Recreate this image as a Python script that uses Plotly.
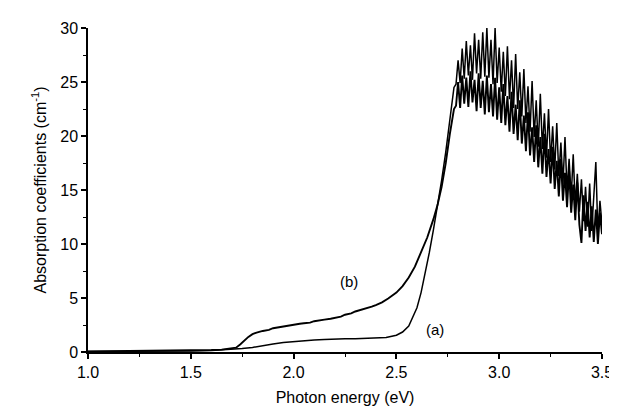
import numpy as np
import plotly.graph_objects as go

# ---- data ----
# smooth parts (photon energy in eV, absorption in cm^-1)
energy_a_smooth = [1.00, 1.10, 1.20, 1.30, 1.40, 1.50, 1.60, 1.65, 1.70, 1.75, 1.80, 1.85, 1.90,
                   1.95, 2.00, 2.05, 2.10, 2.15, 2.20, 2.25, 2.30, 2.35, 2.40, 2.45, 2.50, 2.53,
                   2.56, 2.58, 2.60, 2.62, 2.64, 2.66, 2.68, 2.70, 2.72, 2.74, 2.76, 2.77, 2.78]
absorb_a_smooth = [0.05, 0.05, 0.06, 0.07, 0.08, 0.10, 0.14, 0.18, 0.22, 0.32, 0.42, 0.60, 0.75,
                   0.88, 0.98, 1.06, 1.12, 1.15, 1.20, 1.22, 1.22, 1.25, 1.28, 1.35, 1.55, 1.85,
                   2.4, 3.2, 4.1, 5.5, 7.3, 9.2, 11.3, 13.5, 15.9, 18.5, 21.5, 23.0, 24.5]

energy_b_smooth = [1.00, 1.10, 1.20, 1.30, 1.40, 1.50, 1.60, 1.65, 1.70, 1.72, 1.74, 1.76, 1.78,
                   1.80, 1.82, 1.85, 1.88, 1.90, 1.93, 1.95, 1.98, 2.00, 2.03, 2.05, 2.08, 2.10,
                   2.13, 2.15, 2.18, 2.20, 2.23, 2.25, 2.28, 2.30, 2.33, 2.35, 2.38, 2.40, 2.43,
                   2.46, 2.50, 2.53, 2.56, 2.59, 2.62, 2.65, 2.68, 2.70, 2.72, 2.74, 2.76, 2.78]
absorb_b_smooth = [0.05, 0.06, 0.07, 0.08, 0.10, 0.12, 0.18, 0.22, 0.30, 0.40, 0.70, 1.10, 1.40,
                   1.65, 1.80, 1.95, 2.05, 2.20, 2.30, 2.42, 2.48, 2.55, 2.62, 2.66, 2.72, 2.85,
                   2.90, 3.00, 3.08, 3.15, 3.28, 3.45, 3.58, 3.75, 3.90, 4.05, 4.20, 4.35, 4.60,
                   4.95, 5.50, 6.10, 6.90, 7.90, 9.20, 10.60, 12.30, 13.6, 15.3, 17.5, 20.2, 22.5]

# noisy high-energy part, sampled every 0.01 eV from 2.79 to 3.50
energy_noisy = np.round(np.arange(2.79, 3.5001, 0.01), 2)
absorb_a_noisy = [24.8, 27.0, 24.9, 28.1, 25.3, 28.8, 25.6, 28.4, 25.2, 29.5, 25.8, 28.9,
                  25.3, 29.6, 25.5, 30.0, 25.4, 28.9, 24.8, 30.0, 24.9, 28.2, 24.1, 27.8,
                  23.7, 28.3, 23.4, 27.0, 22.6, 27.6, 22.5, 25.9, 21.8, 26.2, 21.2, 24.6,
                  20.4, 25.1, 19.9, 23.3, 19.0, 23.9, 18.8, 22.1, 18.0, 22.5, 17.6, 20.9,
                  16.9, 21.2, 16.3, 19.4, 15.5, 19.9, 14.9, 17.9, 14.3, 18.3, 13.6, 16.5,
                  13.0, 16.0, 12.1, 15.3, 11.6, 15.6, 11.2, 14.2, 17.6, 11.0, 14.0, 11.8]
absorb_b_noisy = [22.8, 25.0, 22.6, 25.6, 23.0, 25.4, 22.7, 26.0, 23.1, 25.2, 22.3, 25.8,
                  22.6, 25.1, 22.0, 25.6, 22.2, 24.8, 21.8, 25.4, 21.5, 24.5, 21.2, 24.8,
                  21.0, 23.7, 20.4, 24.1, 20.2, 22.9, 19.6, 23.3, 19.3, 21.9, 18.6, 22.2,
                  18.2, 20.8, 17.6, 21.0, 17.1, 19.9, 16.5, 20.2, 16.2, 18.8, 15.6, 19.0,
                  15.1, 17.7, 14.4, 17.9, 14.0, 16.6, 13.4, 16.8, 12.9, 15.5, 12.2, 15.7,
                  11.8, 10.1, 14.5, 11.2, 13.9, 10.6, 13.5, 10.2, 13.2, 10.0, 12.9, 10.9]

energy_a = list(energy_a_smooth) + list(energy_noisy)
absorb_a = list(absorb_a_smooth) + list(absorb_a_noisy)
energy_b = list(energy_b_smooth) + list(energy_noisy)
absorb_b = list(absorb_b_smooth) + list(absorb_b_noisy)

x_ticks = [1.0, 1.5, 2.0, 2.5, 3.0, 3.5]
y_ticks = [0, 5, 10, 15, 20, 25, 30]
curve_labels = ["(a)", "(b)"]
label_pos_a = (2.69, 2.1)
label_pos_b = (2.27, 6.5)

FONT = "Liberation Sans, Arial, sans-serif"

fig = go.Figure()
fig.add_trace(go.Scatter(x=energy_a, y=absorb_a, mode="lines",
                         line=dict(color="black", width=1.5), name="(a)"))
fig.add_trace(go.Scatter(x=energy_b, y=absorb_b, mode="lines",
                         line=dict(color="black", width=1.9), name="(b)"))

fig.add_annotation(x=label_pos_a[0], y=label_pos_a[1], text=curve_labels[0], showarrow=False,
                   font=dict(family=FONT, size=15, color="black"))
fig.add_annotation(x=label_pos_b[0], y=label_pos_b[1], text=curve_labels[1], showarrow=False,
                   font=dict(family=FONT, size=15, color="black"))

fig.update_layout(
    width=617, height=409,
    margin=dict(l=80, r=14, t=16, b=65),
    paper_bgcolor="white", plot_bgcolor="white",
    showlegend=False,
    font=dict(family=FONT, size=16, color="black"),
    xaxis=dict(
        range=[1.0, 3.5], tickvals=x_ticks, ticktext=[f"{v:.1f}" for v in x_ticks],
        showline=True, linecolor="black", linewidth=1.5, mirror=False,
        ticks="outside", ticklen=5, tickwidth=1.5, tickcolor="black",
        minor=dict(dtick=0.25, ticks="outside", ticklen=3, tickwidth=1.2, tickcolor="black"),
        showgrid=False, zeroline=False,
        title=dict(text="Photon energy (eV)", standoff=12, font=dict(size=16)),
        tickfont=dict(size=16),
    ),
    yaxis=dict(
        range=[0, 30], tickvals=y_ticks,
        showline=True, linecolor="black", linewidth=1.5, mirror=False,
        ticks="outside", ticklen=5, tickwidth=1.5, tickcolor="black",
        minor=dict(dtick=2.5, ticks="outside", ticklen=3, tickwidth=1.2, tickcolor="black"),
        showgrid=False, zeroline=False,
        title=dict(text="Absorption coefficients (cm<sup>-1</sup>)", standoff=10, font=dict(size=16)),
        tickfont=dict(size=16),
    ),
)

fig.write_html("out.html")
